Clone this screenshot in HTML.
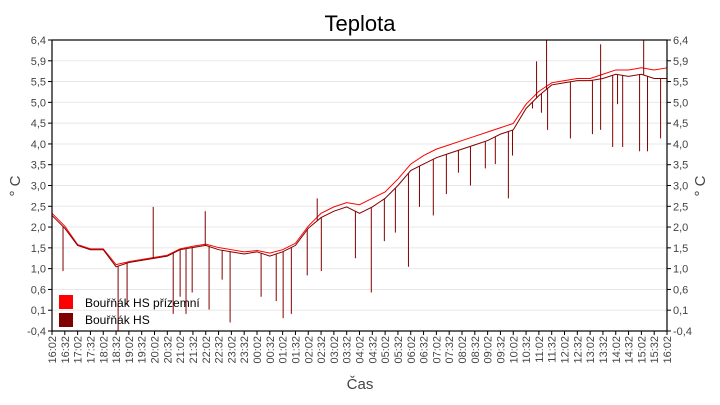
<!DOCTYPE html>
<html><head><meta charset="utf-8"><style>
body{margin:0;background:#fff;font-family:"Liberation Sans",sans-serif}
svg text{font-family:"Liberation Sans",sans-serif}
</style></head><body>
<svg id="c" width="720" height="400" xmlns="http://www.w3.org/2000/svg">
<text x="360" y="31" text-anchor="middle" font-size="22" fill="#000">Teplota</text>
<text x="0" y="0" transform="translate(20,186) rotate(-90)" text-anchor="middle" font-size="15" fill="#444">° C</text>
<text x="0" y="0" transform="translate(705,186) rotate(-90)" text-anchor="middle" font-size="15" fill="#444">° C</text>
<text x="360" y="389" text-anchor="middle" font-size="15" fill="#444">Čas</text>
<g id="grid"></g><g id="series"></g><g id="axes"></g>
<g>
<rect x="59" y="295" width="14" height="14" fill="#ff0000"/>
<text x="85" y="307" font-size="12" fill="#000">Bouřňák HS přízemní</text>
<rect x="59" y="313" width="14" height="14" fill="#800000"/>
<text x="85" y="324" font-size="12" fill="#000">Bouřňák HS</text>
</g>
</svg>
<script>
const yTicks=[-0.4,0.086,0.571,1.057,1.543,2.029,2.514,3.0,3.486,3.971,4.457,4.943,5.429,5.914,6.4];
const yTickLabels=["-0,4","0,1","0,6","1,0","1,5","2,0","2,5","3,0","3,5","4,0","4,5","5,0","5,5","5,9","6,4"];
const xLabels=["16:02","16:32","17:02","17:32","18:02","18:32","19:02","19:32","20:02","20:32","21:02","21:32","22:02","22:32","23:02","23:32","00:02","00:32","01:02","01:32","02:02","02:32","03:02","03:32","04:02","04:32","05:02","05:32","06:02","06:32","07:02","07:32","08:02","08:32","09:02","09:32","10:02","10:32","11:02","11:32","12:02","12:32","13:02","13:32","14:02","14:32","15:02","15:32","16:02"];
const hsValues=[2.3,2.0,1.6,1.5,1.5,1.1,1.2,1.25,1.3,1.35,1.5,1.55,1.6,1.5,1.45,1.4,1.45,1.35,1.45,1.6,2.0,2.25,2.4,2.5,2.35,2.5,2.7,3.0,3.35,3.5,3.65,3.75,3.85,3.95,4.05,4.2,4.3,4.8,5.1,5.35,5.4,5.45,5.45,5.5,5.6,5.55,5.6,5.5,5.5];
const przValues=[2.35,2.05,1.62,1.52,1.52,1.15,1.22,1.27,1.32,1.37,1.52,1.58,1.63,1.55,1.5,1.45,1.48,1.42,1.5,1.65,2.05,2.35,2.5,2.6,2.55,2.7,2.85,3.15,3.5,3.7,3.85,3.95,4.05,4.15,4.25,4.35,4.45,4.9,5.2,5.4,5.45,5.5,5.5,5.6,5.7,5.7,5.75,5.7,5.75];
const spikeHours=[0.43,2.58,2.93,4.73,5.0,5.23,5.47,6.13,6.64,6.95,8.16,8.75,9.02,9.34,9.96,10.51,11.84,12.46,12.97,13.4,13.91,14.34,14.88,15.39,15.86,16.33,16.91,17.3,17.81,17.97,18.75,19.1,19.34,20.23,21.09,21.41,21.88,22.07,22.27,22.93,23.24,23.75,19.3,21.41,23.09,18.91,3.95,5.98,10.35];
const spikeValues=[1.0,-0.4,0.2,0.0,0.4,0.0,0.5,0.1,0.8,-0.2,0.4,0.3,-0.1,0.0,0.9,1.0,1.3,0.5,1.7,1.9,1.1,2.5,2.3,2.8,3.3,3.0,3.4,3.5,2.7,3.7,4.8,4.7,4.3,4.1,4.2,4.3,3.9,4.9,3.9,3.8,3.8,4.1,6.4,6.3,6.4,5.9,2.5,2.4,2.7];
const L=52,R=667,T=40,B=331,NS="http://www.w3.org/2000/svg";
const xS=h=>L+h/24*(R-L);
const yS=v=>B-(v+0.4)/6.8*(B-T);
function mk(tag,at,parent){const e=document.createElementNS(NS,tag);for(const k in at)e.setAttribute(k,at[k]);parent.appendChild(e);return e;}
const grid=document.getElementById('grid'),axes=document.getElementById('axes'),ser=document.getElementById('series');
yTicks.forEach((v,i)=>{
 const y=yS(v);
 if(i>0&&i<yTicks.length-1){const g=mk('line',{x1:L,x2:R,y1:y,y2:y,stroke:'#e8e8e8','stroke-width':1},grid);
 
 }
 mk('line',{x1:L-4,x2:L,y1:y,y2:y,stroke:'#000'},axes);
 mk('line',{x1:R,x2:R+4,y1:y,y2:y,stroke:'#000'},axes);
 const t1=mk('text',{x:L-6,y:y+4,'text-anchor':'end','font-size':11,fill:'#444'},axes);t1.textContent=yTickLabels[i];
 
 
 const t2=mk('text',{x:R+6,y:y+4,'text-anchor':'start','font-size':11,fill:'#444'},axes);t2.textContent=yTickLabels[i];
 
 
});
xLabels.forEach((lb,i)=>{
 const x=xS(i*0.5);
 mk('line',{x1:x,x2:x,y1:B,y2:B+4,stroke:'#000'},axes);
 const t=mk('text',{x:0,y:0,transform:`translate(${x+4},${B+5}) rotate(-90)`,'text-anchor':'end','font-size':11,fill:'#444'},axes);t.textContent=lb;
 
 
});
const fr=mk('rect',{x:L,y:T,width:R-L,height:B-T,fill:'none',stroke:'#000','stroke-width':1.2},axes);


function pts(arr){return arr.map((v,i)=>xS(i*0.5)+','+yS(v)).join(' ');}
function interp(arr,h){const i=Math.min(Math.floor(h/0.5),arr.length-2),f=(h-i*0.5)/0.5;return arr[i]+(arr[i+1]-arr[i])*f;}
const p1=mk('polyline',{points:pts(przValues),fill:'none',stroke:'#ff0000','stroke-width':1},ser);


const p2=mk('polyline',{points:pts(hsValues),fill:'none',stroke:'#800000','stroke-width':1},ser);


spikeHours.forEach((h,i)=>{
 const x=xS(h);
 const s=mk('line',{x1:x,x2:x,y1:yS(interp(hsValues,h)),y2:yS(spikeValues[i]),stroke:'#800000','stroke-width':1},ser);
 
 
});
</script>
</body></html>
